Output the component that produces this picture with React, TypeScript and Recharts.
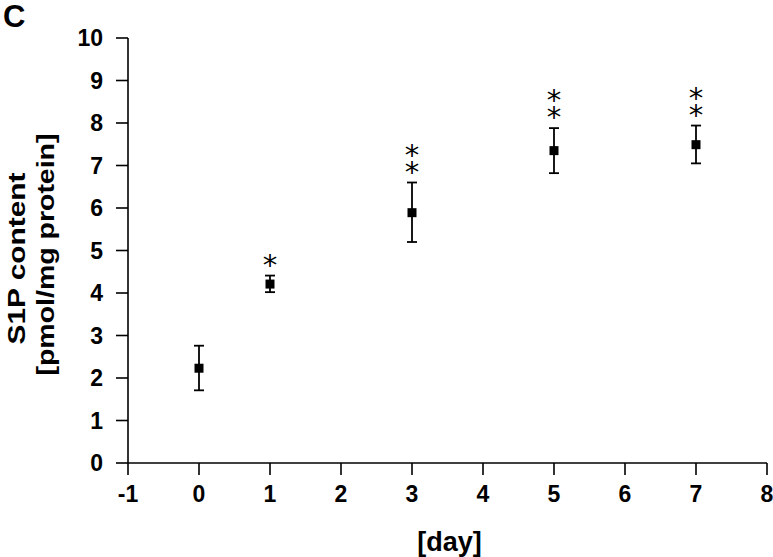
import { ScatterChart, Scatter, XAxis, YAxis, ErrorBar, Label } from "recharts";

// S1P content over time, mean with asymmetric error bars
const days = [0, 1, 3, 5, 7];
const means = [2.23, 4.21, 5.89, 7.35, 7.49];
const lows = [1.71, 4.02, 5.2, 6.82, 7.05];
const highs = [2.76, 4.41, 6.6, 7.88, 7.94];
const stars = ["", "*", "**", "**", "**"];

const xTicks = [-1, 0, 1, 2, 3, 4, 5, 6, 7, 8];
const yTicks = [0, 1, 2, 3, 4, 5, 6, 7, 8, 9, 10];

const points = days.map((d, i) => ({
  day: d,
  s1p: means[i],
  err: [means[i] - lows[i], highs[i] - means[i]],
}));

// significance marks sit on top of each error bar
const marks = days.map((d, i) => ({ day: d, s1p: highs[i], stars: stars[i] }));

const font = "'Liberation Sans', Arial, sans-serif";

const SquareDot = (props: any) => {
  const { cx, cy } = props;
  return <rect x={cx - 4.5} y={cy - 4.5} width={9} height={9} fill="#000" />;
};

const StarMark = (props: any) => {
  const { cx, cy, payload } = props;
  const n = payload.stars.length;
  if (!n) return <g />;
  // stacked asterisks, one per line, in a single text element
  const lines = [];
  for (let k = 0; k < n; k++) {
    lines.push(
      <tspan key={k} x={cx} dy={k === 0 ? 0 : 17}>
        *
      </tspan>
    );
  }
  return (
    <text
      x={cx}
      y={cy - 1 - (n - 1) * 17}
      textAnchor="middle"
      fontFamily="'DejaVu Sans', sans-serif"
      fontSize={29}
      fill="#000"
    >
      {lines}
    </text>
  );
};

const YTitle = (props: any) => {
  const { viewBox } = props;
  const cy = viewBox.y + viewBox.height / 2 + 8;
  return (
    <g fontFamily={font} fontWeight="bold" fontSize={24} fill="#000">
      <text
        x={25}
        y={cy}
        transform={`rotate(-90 25 ${cy})`}
        textAnchor="middle"
        textLength={172}
        lengthAdjust="spacingAndGlyphs"
      >
        S1P content
      </text>
      <text
        x={54}
        y={cy - 4}
        transform={`rotate(-90 54 ${cy - 4})`}
        textAnchor="middle"
        textLength={242}
        lengthAdjust="spacingAndGlyphs"
      >
        [pmol/mg protein]
      </text>
    </g>
  );
};

const XTitle = (props: any) => {
  const { viewBox } = props;
  return (
    <text
      x={viewBox.x + viewBox.width / 2 + 2}
      y={viewBox.y + 88}
      textAnchor="middle"
      fontFamily={font}
      fontWeight="bold"
      fontSize={27}
      fill="#000"
    >
      [day]
    </text>
  );
};

export default function App() {
  const tickStyle = { fill: "#000", fontSize: 23, fontWeight: "bold", fontFamily: font };
  return (
    <div style={{ position: "absolute", left: 0, top: 0, background: "#fff" }}>
      <div
        style={{
          position: "absolute",
          left: 3,
          top: 0,
          fontFamily: font,
          fontWeight: "bold",
          fontSize: 31,
          lineHeight: "34px",
        }}
      >
        C
      </div>
      <ScatterChart width={773} height={557} margin={{ top: 38, right: 6, bottom: 0, left: 0 }}>
        <XAxis
          type="number"
          dataKey="day"
          domain={[-1, 8]}
          ticks={xTicks}
          height={94}
          tickSize={12}
          tickMargin={11}
          stroke="#000"
          strokeWidth={1.6}
          tick={tickStyle}
          allowDataOverflow
        >
          <Label content={<XTitle />} />
        </XAxis>
        <YAxis
          type="number"
          dataKey="s1p"
          domain={[0, 10]}
          ticks={yTicks}
          width={128}
          tickSize={12}
          tickMargin={13}
          stroke="#000"
          strokeWidth={1.6}
          tick={tickStyle}
          allowDataOverflow
        >
          <Label content={<YTitle />} />
        </YAxis>
        <Scatter data={points} shape={<SquareDot />} isAnimationActive={false}>
          <ErrorBar dataKey="err" direction="y" width={5} stroke="#000" strokeWidth={1.8} />
        </Scatter>
        <Scatter data={marks} shape={<StarMark />} isAnimationActive={false} />
      </ScatterChart>
    </div>
  );
}
